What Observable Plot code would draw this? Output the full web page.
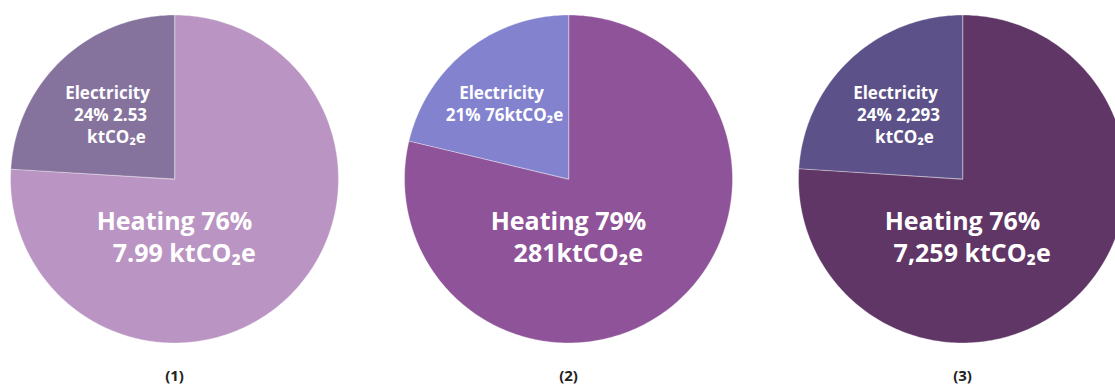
<!DOCTYPE html>
<html>
<head>
<meta charset="utf-8">
<script src="https://cdn.jsdelivr.net/npm/d3@7"></script>
<script src="https://cdn.jsdelivr.net/npm/@observablehq/plot@0.6"></script>
<style>
  html, body { margin: 0; padding: 0; background: #fff; overflow: hidden; }
</style>
</head>
<body>
<div id="chart"></div>
<script>
// Emissions split between heating and electricity, one pie per panel
const pieNames = ["(1)", "(2)", "(3)"];
const heatingValues = [7.99, 281, 7259];        // ktCO2e
const electricityValues = [2.53, 76, 2293];     // ktCO2e
const heatingShares = [76, 79, 76];             // %
const electricityShares = [24, 21, 24];         // %
const heatingColors = ["#BA95C3", "#8F5399", "#5F3666"];
const electricityColors = ["#85739E", "#8282CF", "#5D5189"];
const unitSpaced = [true, false, true];         // "7.99 ktCO₂e" vs "281ktCO₂e"

const UNIT = "ktCO\u2082e";
const fmt = d3.format(",");

// Slice outlines: fan polygons from the centre, unit radius
const slicePoints = [];
pieNames.forEach((pie, i) => {
  const arcs = d3.pie().sort(null).startAngle(0).endAngle(2 * Math.PI)(
    [heatingValues[i], electricityValues[i]]
  );
  const colors = [heatingColors[i], electricityColors[i]];
  arcs.forEach((a, j) => {
    const key = pie + "-" + j;
    const n = Math.max(2, Math.ceil((a.endAngle - a.startAngle) / (Math.PI / 180)));
    slicePoints.push({pie, key, color: colors[j], x: 0, y: 0});
    for (let k = 0; k <= n; ++k) {
      const t = a.startAngle + (a.endAngle - a.startAngle) * k / n;
      slicePoints.push({pie, key, color: colors[j], x: Math.sin(t), y: Math.cos(t)});
    }
  });
});

// Slice labels: the heating label is one two-line block, second line indented
const heatingLabels = pieNames.map((pie, i) => ({
  pie,
  text: `Heating ${heatingShares[i]}%\n   ${fmt(heatingValues[i])}${unitSpaced[i] ? " " : ""}${UNIT}`
}));

const electricityLines = [];
pieNames.forEach((pie, i) => {
  electricityLines.push({pie, line: 0, text: "Electricity"});
  if (unitSpaced[i]) {
    electricityLines.push({pie, line: 1, text: `${electricityShares[i]}% ${fmt(electricityValues[i])}`});
    electricityLines.push({pie, line: 2, text: UNIT});
  } else {
    electricityLines.push({pie, line: 1, text: `${electricityShares[i]}% ${fmt(electricityValues[i])}${UNIT}`});
  }
});

const elecOffsets = [[-67, -85], [-64, -63], [-58, -41]];

const labelMarks = [
  Plot.text(heatingLabels, {
    fx: "pie", x: () => 0, y: () => 0, text: "text", dx: 0, dy: 57,
    fill: "white", fontSize: 25, lineHeight: 1.25, fontWeight: "bold", textAnchor: "middle"
  }),
  ...elecOffsets.map(([dx, dy], k) => Plot.text(electricityLines.filter(d => d.line === k), {
    fx: "pie", x: () => 0, y: () => 0, text: "text", dx, dy,
    fill: "white", fontSize: 17, fontWeight: "bold", textAnchor: "middle"
  }))
];

const chart = Plot.plot({
  width: 1127,
  height: 389,
  marginLeft: 9.5,
  marginRight: 0.5,
  marginTop: 14.5,
  marginBottom: 46.5,
  fx: {domain: pieNames, paddingInner: 0.16857, paddingOuter: 0, axis: null},
  x: {domain: [-1, 1], axis: null},
  y: {domain: [-1, 1], axis: null},
  color: {type: "identity"},
  style: {fontFamily: "'Open Sans', sans-serif", maxWidth: "none", background: "white"},
  marks: [
    Plot.line(slicePoints, {
      fx: "pie", x: "x", y: "y", z: "key", fill: "color",
      stroke: "white", strokeOpacity: 0.45, strokeWidth: 0.8, curve: "linear-closed"
    }),
    ...labelMarks,
    Plot.axisFx({
      anchor: "bottom", tickSize: 0, tickPadding: 27, label: null,
      fontSize: 15, fontWeight: "bold", fill: "#222"
    })
  ]
});

document.getElementById("chart").appendChild(chart);
</script>
</body>
</html>
